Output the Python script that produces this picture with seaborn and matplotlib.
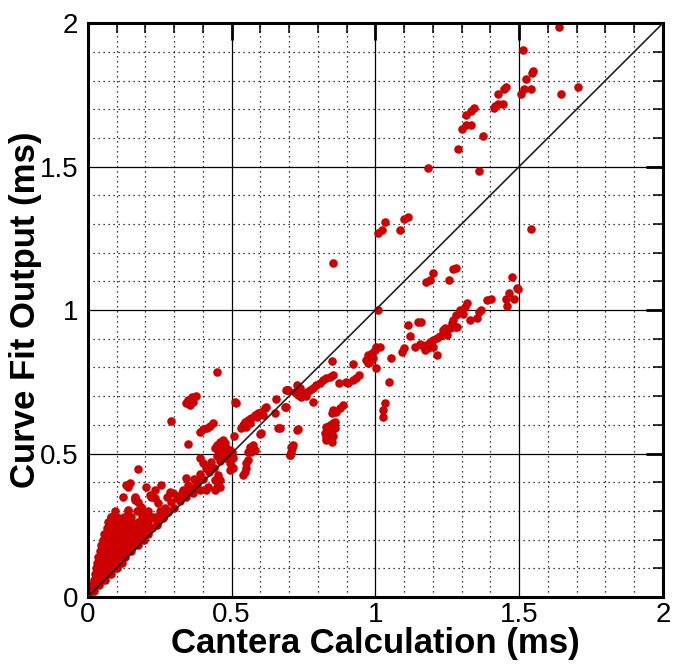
import pandas as pd
import matplotlib
matplotlib.use("Agg")
import matplotlib.pyplot as plt
import seaborn as sns
from matplotlib.ticker import MultipleLocator, FormatStrFormatter

sns.set_style("white")
plt.rcParams["font.family"] = ["Liberation Sans", "DejaVu Sans"]

# dense group near the origin (Cantera, curve fit), ms
origin_x = [0.002, 0.01, 0.02, 0.015, 0.03, 0.04, 0.02, 0.035, 0.05, 0.06,
            0.025, 0.04, 0.055, 0.07, 0.08, 0.027, 0.045, 0.06, 0.075, 0.09, 0.10,
            0.032, 0.05, 0.065, 0.08, 0.095, 0.11, 0.12,
            0.037, 0.055, 0.07, 0.085, 0.10, 0.115, 0.13,
            0.042, 0.06, 0.075, 0.09, 0.105, 0.12, 0.135, 0.15,
            0.047, 0.065, 0.08, 0.095, 0.11, 0.125, 0.14, 0.16, 0.175,
            0.053, 0.07, 0.085, 0.10, 0.12, 0.14, 0.16, 0.18, 0.195,
            0.058, 0.075, 0.09, 0.11, 0.13, 0.15, 0.17, 0.19, 0.21,
            0.066, 0.085, 0.10, 0.12, 0.14, 0.16, 0.18, 0.20, 0.225,
            0.072, 0.09, 0.11, 0.13, 0.15, 0.175, 0.20, 0.24,
            0.08, 0.10, 0.125, 0.15, 0.19, 0.22, 0.26,
            0.095, 0.14, 0.17, 0.21, 0.25, 0.28]
origin_y = [0.003, 0.02, 0.02, 0.04, 0.04, 0.04, 0.06, 0.06, 0.06, 0.06,
            0.08, 0.08, 0.08, 0.08, 0.08, 0.10, 0.10, 0.10, 0.10, 0.10, 0.10,
            0.12, 0.12, 0.12, 0.12, 0.12, 0.12, 0.12,
            0.14, 0.14, 0.14, 0.14, 0.14, 0.14, 0.14,
            0.16, 0.16, 0.16, 0.16, 0.16, 0.16, 0.16, 0.16,
            0.18, 0.18, 0.18, 0.18, 0.18, 0.18, 0.18, 0.18, 0.18,
            0.20, 0.20, 0.20, 0.20, 0.20, 0.20, 0.20, 0.20, 0.20,
            0.22, 0.22, 0.22, 0.22, 0.22, 0.22, 0.22, 0.22, 0.22,
            0.24, 0.24, 0.24, 0.24, 0.24, 0.24, 0.24, 0.24, 0.24,
            0.26, 0.26, 0.26, 0.26, 0.26, 0.26, 0.26, 0.26,
            0.28, 0.28, 0.28, 0.28, 0.28, 0.28, 0.28,
            0.30, 0.30, 0.30, 0.30, 0.30, 0.30]

# band just above the diagonal, 0.2 - 0.5 ms
band_x = [0.20, 0.22, 0.24, 0.26, 0.28, 0.30, 0.32, 0.34, 0.36, 0.38, 0.40, 0.42,
          0.44, 0.46, 0.48, 0.50, 0.21, 0.23, 0.25, 0.27, 0.29, 0.31, 0.33, 0.35,
          0.37, 0.39, 0.41, 0.43, 0.45, 0.47]
band_y = [0.215, 0.24, 0.25, 0.275, 0.295, 0.31, 0.335, 0.35, 0.37, 0.395, 0.41, 0.435,
          0.45, 0.475, 0.49, 0.505, 0.26, 0.28, 0.29, 0.31, 0.33, 0.345, 0.37, 0.39,
          0.41, 0.43, 0.45, 0.47, 0.49, 0.51]

# scattered points 0.1 - 0.7 ms
low_x = [0.361, 0.349, 0.343, 0.366, 0.378, 0.355, 0.291, 0.390, 0.401, 0.424, 0.453,
         0.442, 0.175, 0.146, 0.140, 0.134, 0.341, 0.123, 0.163, 0.204, 0.221, 0.285,
         0.297, 0.331, 0.355, 0.378, 0.320, 0.274, 0.366, 0.390, 0.233, 0.256, 0.216,
         0.163, 0.233, 0.245, 0.082, 0.140, 0.181, 0.192, 0.163, 0.175, 0.186, 0.198,
         0.210, 0.086, 0.459, 0.453, 0.448, 0.442, 0.459, 0.419, 0.410, 0.378, 0.384,
         0.343, 0.349, 0.450, 0.436, 0.424, 0.413, 0.401, 0.390]
low_y = [0.698, 0.686, 0.675, 0.680, 0.700, 0.669, 0.614, 0.483, 0.466, 0.443, 0.425,
         0.408, 0.445, 0.396, 0.384, 0.390, 0.413, 0.350, 0.350, 0.384, 0.350, 0.367,
         0.361, 0.373, 0.379, 0.384, 0.355, 0.350, 0.361, 0.373, 0.373, 0.390, 0.355,
         0.338, 0.344, 0.326, 0.280, 0.303, 0.309, 0.292, 0.344, 0.332, 0.315, 0.297,
         0.286, 0.278, 0.408, 0.396, 0.384, 0.373, 0.384, 0.384, 0.373, 0.402, 0.408,
         0.361, 0.533, 0.785, 0.605, 0.596, 0.588, 0.584, 0.576]

mid_x = [0.621, 0.616, 0.604, 0.592, 0.581, 0.569, 0.558, 0.546, 0.540, 0.534, 0.610,
         0.587, 0.563, 0.552, 0.689, 0.662, 0.729, 0.598, 0.509, 0.515, 0.693, 0.656,
         0.471, 0.459, 0.448, 0.442, 0.453, 0.465, 0.477, 0.482, 0.494, 0.488, 0.500,
         0.506, 0.494, 0.500, 0.506, 0.477, 0.459, 0.563, 0.575, 0.581, 0.569, 0.558,
         0.552, 0.558, 0.424, 0.511, 0.604, 0.494, 0.552, 0.546, 0.540, 0.650, 0.697]
mid_y = [0.663, 0.657, 0.646, 0.640, 0.634, 0.623, 0.617, 0.611, 0.599, 0.588, 0.634,
         0.628, 0.605, 0.594, 0.663, 0.588, 0.582, 0.568, 0.561, 0.677, 0.721, 0.689,
         0.547, 0.541, 0.530, 0.518, 0.512, 0.524, 0.536, 0.518, 0.512, 0.501, 0.495,
         0.483, 0.466, 0.454, 0.448, 0.483, 0.501, 0.524, 0.530, 0.512, 0.506, 0.506,
         0.466, 0.477, 0.454, 0.678, 0.570, 0.443, 0.448, 0.437, 0.425, 0.640, 0.721]

# 0.7 - 1.05 ms
upper_mid_x = [1.004, 0.998, 0.987, 0.975, 0.969, 0.981, 0.992, 0.975, 1.004, 0.921,
               0.851, 0.943, 0.932, 0.923, 0.906, 0.897, 0.874, 0.853, 0.842, 0.830,
               0.818, 0.807, 0.795, 0.784, 0.772, 0.761, 0.749, 0.737, 0.726, 0.731,
               0.720, 0.743, 0.758, 0.784, 0.691, 0.685, 0.888, 0.877, 0.865, 0.853,
               0.848, 0.830, 0.842, 0.853, 0.859, 0.848, 0.836, 0.824, 0.830, 0.842,
               0.853, 0.828, 0.848, 0.836, 0.859, 0.731, 0.714, 0.712, 0.708, 0.705,
               1.033, 1.027, 1.027, 0.668, 1.047, 0.708, 0.703]
upper_mid_y = [0.872, 0.861, 0.849, 0.843, 0.826, 0.820, 0.832, 0.814, 0.797, 0.811,
               0.822, 0.774, 0.762, 0.756, 0.745, 0.750, 0.745, 0.774, 0.768, 0.762,
               0.756, 0.745, 0.739, 0.727, 0.721, 0.715, 0.710, 0.727, 0.739, 0.704,
               0.715, 0.698, 0.700, 0.680, 0.721, 0.663, 0.669, 0.657, 0.646, 0.652,
               0.642, 0.594, 0.599, 0.605, 0.588, 0.582, 0.576, 0.570, 0.559, 0.553,
               0.561, 0.547, 0.541, 0.582, 0.611, 0.584, 0.530, 0.518, 0.506, 0.495,
               0.675, 0.652, 0.628, 0.588, 0.748, 0.524, 0.495]

# 1.0 - 1.55 ms, under the diagonal
high_low_x = [1.009, 1.319, 1.369, 1.361, 1.352, 1.160, 1.112, 1.122, 1.265, 1.277,
              1.259, 1.236, 1.248, 1.224, 1.213, 1.201, 1.190, 1.178, 1.166, 1.155,
              1.137, 1.184, 1.172, 1.201, 1.213, 1.100, 1.094, 1.054, 1.016, 1.294,
              1.305, 1.282, 1.329, 1.271, 1.285, 1.387, 1.402, 1.465, 1.454, 1.458,
              1.482, 1.494, 1.498, 1.477, 1.149, 1.242, 1.311]
high_low_y = [1.002, 1.023, 1.002, 0.994, 0.971, 0.959, 0.948, 0.909, 0.954, 0.942,
              0.936, 0.930, 0.913, 0.909, 0.901, 0.895, 0.890, 0.878, 0.875, 0.882,
              0.870, 0.867, 0.861, 0.872, 0.843, 0.867, 0.855, 0.832, 0.870, 1.000,
              0.988, 0.983, 0.965, 0.965, 0.940, 1.035, 1.040, 1.061, 1.037, 1.014,
              1.040, 1.078, 1.074, 1.114, 0.959, 0.936, 1.010]

# above the diagonal, 0.85 - 1.7 ms
high_x = [1.011, 1.023, 1.032, 1.085, 1.100, 1.112, 1.199, 1.176, 1.190, 1.271, 1.281,
          1.255, 1.541, 0.852, 1.639, 1.514, 1.549, 1.545, 1.523, 1.517, 1.540, 1.508,
          1.645, 1.706, 1.454, 1.449, 1.428, 1.425, 1.445, 1.412, 1.417, 1.344, 1.333,
          1.317, 1.315, 1.334, 1.302, 1.376, 1.286, 1.185, 1.359]
high_y = [1.267, 1.279, 1.306, 1.279, 1.319, 1.325, 1.130, 1.099, 1.105, 1.142, 1.146,
          1.105, 1.283, 1.164, 1.987, 1.908, 1.834, 1.827, 1.807, 1.770, 1.770, 1.755,
          1.755, 1.778, 1.778, 1.771, 1.755, 1.720, 1.718, 1.703, 1.711, 1.703, 1.694,
          1.679, 1.645, 1.645, 1.633, 1.606, 1.560, 1.496, 1.484]

diag = [0, 2]

df = pd.DataFrame({
    "cantera": origin_x + band_x + low_x + mid_x + upper_mid_x + high_low_x + high_x,
    "fit": origin_y + band_y + low_y + mid_y + upper_mid_y + high_low_y + high_y,
})

fig = plt.figure(figsize=(6.75, 6.64), dpi=100)
ax = fig.add_axes([0.130, 0.101, 0.852, 0.864])

sns.scatterplot(data=df, x="cantera", y="fit", color="#cc0000", s=38,
                linewidth=0, ax=ax, zorder=2)
ax.plot(diag, diag, color="#222222", linewidth=1.2, zorder=3)

ax.set_xlim(0, 2)
ax.set_ylim(0, 2)
ax.xaxis.set_major_locator(MultipleLocator(0.5))
ax.yaxis.set_major_locator(MultipleLocator(0.5))
ax.xaxis.set_minor_locator(MultipleLocator(0.1))
ax.yaxis.set_minor_locator(MultipleLocator(0.1))
ax.xaxis.set_major_formatter(FormatStrFormatter("%g"))
ax.yaxis.set_major_formatter(FormatStrFormatter("%g"))

ax.grid(which="major", color="black", linewidth=0.9, linestyle="-")
ax.grid(which="minor", color="black", linewidth=0.9, linestyle=(0, (1, 3)))
ax.set_axisbelow(True)

ax.tick_params(which="both", direction="in", top=True, right=True,
               labelsize=20, colors="black")
ax.tick_params(which="major", length=12, width=2)
ax.tick_params(which="minor", length=7.5, width=1.1)
ax.tick_params(axis="x", which="major", pad=4)
ax.tick_params(axis="y", which="major", pad=7)

for s in ax.spines.values():
    s.set_color("k")
    s.set_linewidth(2.2)

ax.set_xlabel("Cantera Calculation (ms)", fontsize=25, fontweight="bold",
              labelpad=-1, color="black")
ax.set_ylabel("Curve Fit Output (ms)", fontsize=25, fontweight="bold",
              labelpad=-2, color="black")

plt.savefig("out.png", dpi=100)
